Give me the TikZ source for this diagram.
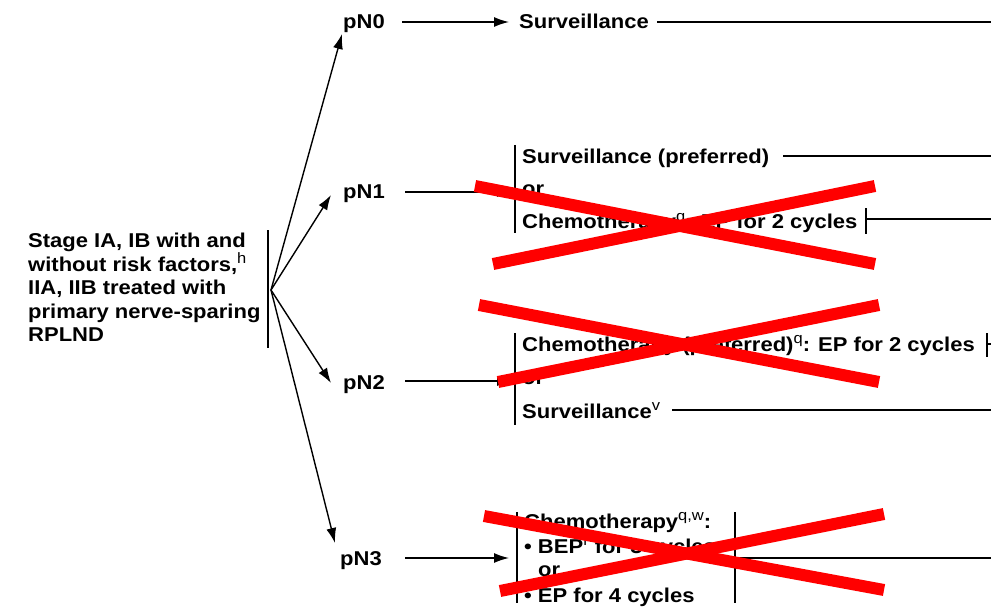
\documentclass[tikz,border=0pt]{standalone}
\usepackage{fontspec}
\setmainfont{Liberation Sans}[FakeStretch=1.1]
\usetikzlibrary{arrows.meta}
\newcommand\sps[1]{\raisebox{7.5pt}{\fontsize{15}{15}\selectfont\mdseries #1}}
\begin{document}
\begin{tikzpicture}[x=1pt,y=-1pt,
  every node/.style={inner sep=0pt, font=\bfseries\fontsize{20}{23.5}\selectfont},
  conn/.style={line width=1.4pt},
  arr/.style={conn,-{Latex[length=15pt,width=10pt]}},
  barline/.style={line width=1.4pt},
  cross/.style={draw=red, line width=12pt}]
\useasboundingbox (0,0) rectangle (991,607);
% left text
\node[anchor=north west, align=left] (stage) at (28,233) {Stage IA, IB with and\\without risk factors,\sps{h}\\IIA, IIB treated with\\primary nerve-sparing\\RPLND};
\draw[barline] (268,230) -- (268,348);
% labels
\node[anchor=base west] (n0) at (343,29) {pN0};
\node[anchor=base west] (n1) at (343,199) {pN1};
\node[anchor=base west] (n2) at (343,389) {pN2};
\node[anchor=base west] (n3) at (340,565) {pN3};
% fan
\coordinate (fan) at (271,290);
\coordinate (t0) at (342,34);
\coordinate (t1) at (331,195);
\coordinate (t2) at (331,383);
\coordinate (t3) at (335,543);
\draw[arr] (fan) -- (t0);
\draw[arr] (fan) -- (t1);
\draw[arr] (fan) -- (t2);
\draw[arr] (fan) -- (t3);
% pN0 row
\node[anchor=base west] (s0) at (519,29) {Surveillance};
\coordinate (a0) at (402,22); \coordinate (b0) at (509,22);
\draw[arr] (a0) -- (b0);
\coordinate (r0a) at (657,22); \coordinate (r0b) at (991,22);
\draw[conn] (r0a) -- (r0b);
% pN1 block
\node[anchor=base west] (s1) at (522,164) {Surveillance (preferred)};
\node[anchor=base west] (or1) at (522,196) {or};
\node[anchor=base west] (c1) at (522,229) {Chemotherapy\sps{q}: EP for 2 cycles};
\draw[barline] (515,145) -- (515,233);
\coordinate (a1) at (405,192); \coordinate (b1) at (512,192);
\draw[arr] (a1) -- (b1);
\coordinate (r1a) at (783,156); \coordinate (r1b) at (991,156);
\draw[conn] (r1a) -- (r1b);
\draw[barline] (866,208) -- (866,234);
\coordinate (r2a) at (866,219); \coordinate (r2b) at (991,219);
\draw[conn] (r2a) -- (r2b);
% pN2 block
\node[anchor=base west] (c2) at (522,351) {Chemotherapy (preferred)\sps{q}: EP for 2 cycles};
\node[anchor=base west] (or2) at (522,384) {or};
\node[anchor=base west] (s2) at (522,418) {Surveillance\sps{v}};
\draw[barline] (515,333) -- (515,425);
\coordinate (a2) at (405,381); \coordinate (b2) at (512,381);
\draw[arr] (a2) -- (b2);
\draw[barline] (987,333) -- (987,357);
\coordinate (r3a) at (987,344); \coordinate (r3b) at (991,344);
\draw[conn] (r3a) -- (r3b);
\coordinate (r4a) at (672,410); \coordinate (r4b) at (991,410);
\draw[conn] (r4a) -- (r4b);
% pN3 block
\node[anchor=base west] (c3) at (524,528) {Chemotherapy\sps{q,w}:};
\node[anchor=base west] (b3) at (524,553) {\textbullet\ BEP\sps{r} for 3 cycles};
\node[anchor=base west] (or3) at (538,576) {or};
\node[anchor=base west] (e3) at (524,602) {\textbullet\ EP for 4 cycles};
\draw[barline] (517,512) -- (517,603);
\draw[barline] (735,512) -- (735,603);
\coordinate (a3) at (405,558); \coordinate (b3e) at (509,558);
\draw[arr] (a3) -- (b3e);
\coordinate (r5a) at (738,558); \coordinate (r5b) at (991,558);
\draw[conn] (r5a) -- (r5b);
% red crosses
\draw[cross] (475,186) -- (875,264);
\draw[cross] (493,264) -- (875,186);
\draw[cross] (479,305) -- (879,382);
\draw[cross] (498,382) -- (879,305);
\draw[cross] (484,516) -- (884,590);
\draw[cross] (500,591) -- (884,514);
\end{tikzpicture}
\end{document}
